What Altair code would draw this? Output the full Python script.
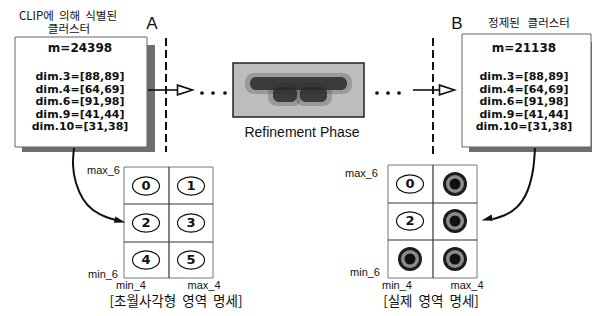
import altair as alt
import pandas as pd

NB = "\u00a0"

# ---------------- data (page pixel units, y downward) ----------------
box_x1 = [15, 462]
box_x2 = [147, 591]
box_y1 = [37, 34]
box_y2 = [147, 147]
box_cx = [80, 524]
box_m = ["m=24398", "m=21138"]
m_y = 48
dim_labels = ["dim.3=[88,89]", "dim.4=[64,69]", "dim.6=[91,98]", "dim.9=[41,44]", "dim.10=[31,38]"]
dim_y = [77, 89.5, 102, 114.5, 127]

kor_titles = ["CLIP에 " + NB + "의해 " + NB + "식별된", "클러스터", "정제된 " + NB + NB + "클러스터"]
kor_title_x = [68, 69, 529]
kor_title_y = [16.5, 30, 24]
letters = ["A", "B"]
letter_x = [152, 457]
letter_y = [24, 23.5]

dash_x = [166, 433]
dash_y1 = [38, 38]
dash_y2 = [152, 157]

arrow_x1 = [148, 413]
arrow_x2 = [178, 441]
arrow_y = [90, 90]
arrowhead_x = [185, 447]

dots_x = [202, 213, 225, 377, 388, 399]
dots_y = [93, 93, 93, 93, 93, 93]

mid_box = [233, 364, 63, 117]
blob_x1 = [250, 273, 300]
blob_x2 = [347, 297, 327]
blob_y1 = [77, 87, 87]
blob_y2 = [90, 102, 102]
mid_label = "Refinement Phase"
mid_label_x = 302
mid_label_y = 133

grid_x1 = [124, 388]
grid_x2 = [213, 477]
grid_y1 = [167, 165]
grid_y2 = [278, 278]
grid_xmid = [169, 433]
grid_ymid1 = [204, 203]
grid_ymid2 = [242, 240]

left_cell_x = [146, 191, 146, 191, 146, 191]
left_cell_y = [186, 186, 223, 223, 260, 260]
left_cell_label = ["0", "1", "2", "3", "4", "5"]
right_open_x = [410, 410]
right_open_y = [184, 221]
right_open_label = ["0", "2"]
right_fill_x = [455, 455, 410, 455]
right_fill_y = [184, 221, 259, 259]

axis_labels = ["max_6", "min_6", "max_6", "min_6"]
axis_label_x = [120, 118, 378, 380]
axis_label_y = [171, 275, 174, 273]
axis4_labels = ["min_4", "max_4", "min_4", "max_4"]
axis4_x = [131, 204, 397, 467]
axis4_y = [286, 286, 286, 286]

captions = ["[초월사각형 " + NB + "영역 " + NB + "명세]", "[실제 " + NB + "영역 " + NB + "명세]"]
caption_x = [176, 431]
caption_y = [301.5, 301.5]

curve_left_x = [74, 73, 76, 83, 93, 106, 116]
curve_left_y = [148, 165, 183, 199, 210, 217, 220]
curve_right_x = [535, 533, 527, 517, 505, 493]
curve_right_y = [148, 170, 192, 207, 215, 219]
head_x = [120, 487]
head_y = [221, 219]

# ---------------- helpers ----------------
XS = alt.Scale(domain=[8, 592], nice=False, zero=False)
YS = alt.Scale(domain=[8, 308], nice=False, zero=False, reverse=True)


def X(f):
    return alt.X(f, type="quantitative", scale=XS, axis=None)


def Y(f):
    return alt.Y(f, type="quantitative", scale=YS, axis=None)


KFONT = "Noto Sans CJK KR"
LFONT = "Liberation Sans"
BFONT = "DejaVu Sans"

layers = []

# shadows
shadow_df = pd.DataFrame({
    "x1": [v + 7 for v in box_x1], "x2": [v + 8 for v in box_x2],
    "y1": [v + 8 for v in box_y1], "y2": [v + 5 for v in box_y2],
})
layers.append(alt.Chart(shadow_df).mark_rect(color="#6e6e6e").encode(
    x=X("x1"), x2="x2", y=Y("y1"), y2="y2"))

# boxes
box_df = pd.DataFrame({"x1": box_x1, "x2": box_x2, "y1": box_y1, "y2": box_y2})
layers.append(alt.Chart(box_df).mark_rect(fill="white", stroke="#666", strokeWidth=1).encode(
    x=X("x1"), x2="x2", y=Y("y1"), y2="y2"))

# box text
m_df = pd.DataFrame({"x": box_cx, "y": [m_y, m_y], "t": box_m})
layers.append(alt.Chart(m_df).mark_text(
    font=BFONT, fontSize=12, fontWeight="bold", color="#111", align="center", baseline="middle").encode(
    x=X("x"), y=Y("y"), text="t:N"))
bt_rows = []
for i in range(2):
    for lab, yy in zip(dim_labels, dim_y):
        bt_rows.append({"x": box_cx[i], "y": yy, "t": lab})
layers.append(alt.Chart(pd.DataFrame(bt_rows)).mark_text(
    font=BFONT, fontSize=11, fontWeight="bold", color="#111", align="center", baseline="middle").encode(
    x=X("x"), y=Y("y"), text="t:N"))

# titles
layers.append(alt.Chart(pd.DataFrame({"x": kor_title_x, "y": kor_title_y, "t": kor_titles})).mark_text(
    font=KFONT, fontSize=11.5, color="#111", align="center", baseline="middle").encode(
    x=X("x"), y=Y("y"), text="t:N"))
layers.append(alt.Chart(pd.DataFrame({"x": letter_x, "y": letter_y, "t": letters})).mark_text(
    font=LFONT, fontSize=17, color="#111", align="center", baseline="middle").encode(
    x=X("x"), y=Y("y"), text="t:N"))

# dashed separators
layers.append(alt.Chart(pd.DataFrame({"x": dash_x, "y1": dash_y1, "y2": dash_y2})).mark_rule(
    color="#111", strokeWidth=2, strokeDash=[8, 4]).encode(x=X("x"), y=Y("y1"), y2="y2"))

# arrows
layers.append(alt.Chart(pd.DataFrame({"x1": arrow_x1, "x2": arrow_x2, "y": arrow_y})).mark_rule(
    color="#111", strokeWidth=1.6).encode(x=X("x1"), x2="x2", y=Y("y")))
layers.append(alt.Chart(pd.DataFrame({"x": arrowhead_x, "y": arrow_y})).mark_point(
    shape="M-1,-0.65L1,0L-1,0.65Z", size=225, filled=True, fill="white", stroke="#111",
    strokeWidth=1.6, opacity=1).encode(x=X("x"), y=Y("y")))

# dots
layers.append(alt.Chart(pd.DataFrame({"x": dots_x, "y": dots_y})).mark_circle(
    size=14, color="#111", opacity=1).encode(x=X("x"), y=Y("y")))

# middle box (blurred content)
layers.append(alt.Chart(pd.DataFrame({"x1": [mid_box[0]], "x2": [mid_box[1]], "y1": [mid_box[2]], "y2": [mid_box[3]]})).mark_rect(
    fill="#bdbdbd", stroke="#222", strokeWidth=1.5).encode(x=X("x1"), x2="x2", y=Y("y1"), y2="y2"))
halo = pd.DataFrame({"x1": [v - 5 for v in blob_x1], "x2": [v + 5 for v in blob_x2],
                     "y1": [v - 4 for v in blob_y1], "y2": [v + 4 for v in blob_y2]})
layers.append(alt.Chart(halo).mark_rect(fill="#555", opacity=0.35, cornerRadius=9).encode(
    x=X("x1"), x2="x2", y=Y("y1"), y2="y2"))
layers.append(alt.Chart(pd.DataFrame({"x1": blob_x1, "x2": blob_x2, "y1": blob_y1, "y2": blob_y2})).mark_rect(
    fill="#2a2a2a", opacity=0.85, cornerRadius=6).encode(x=X("x1"), x2="x2", y=Y("y1"), y2="y2"))
layers.append(alt.Chart(pd.DataFrame({"x": [mid_label_x], "y": [mid_label_y], "t": [mid_label]})).mark_text(
    font=LFONT, fontSize=14, color="#111", align="center", baseline="middle").encode(
    x=X("x"), y=Y("y"), text="t:N"))

# grids
layers.append(alt.Chart(pd.DataFrame({"x1": grid_x1, "x2": grid_x2, "y1": grid_y1, "y2": grid_y2})).mark_rect(
    fill="white", stroke="#777", strokeWidth=1).encode(x=X("x1"), x2="x2", y=Y("y1"), y2="y2"))
layers.append(alt.Chart(pd.DataFrame({"x": grid_xmid, "y1": grid_y1, "y2": grid_y2})).mark_rule(
    color="#333", strokeWidth=1.2).encode(x=X("x"), y=Y("y1"), y2="y2"))
hl = pd.DataFrame({"x1": grid_x1 + grid_x1, "x2": grid_x2 + grid_x2, "y": grid_ymid1 + grid_ymid2})
layers.append(alt.Chart(hl).mark_rule(color="#333", strokeWidth=1.2).encode(x=X("x1"), x2="x2", y=Y("y")))

# open ellipses
ell = "M-1,0A1,0.68,0,1,0,1,0A1,0.68,0,1,0,-1,0Z"
open_df = pd.DataFrame({"x": left_cell_x + right_open_x, "y": left_cell_y + right_open_y,
                        "t": left_cell_label + right_open_label})
layers.append(alt.Chart(open_df).mark_point(shape=ell, size=729, filled=True, fill="white",
                                            stroke="#111", strokeWidth=1.2, opacity=1).encode(x=X("x"), y=Y("y")))
layers.append(alt.Chart(open_df).mark_text(font=BFONT, fontSize=13, fontWeight="bold", color="#111",
                                           align="center", baseline="middle").encode(x=X("x"), y=Y("y"), text="t:N"))

# filled (shaded) circles
fill_df = pd.DataFrame({"x": right_fill_x, "y": right_fill_y})
for sz, col in [(24 ** 2, "#1c1c1c"), (18 ** 2, "#8c8c8c"), (11 ** 2, "#111")]:
    layers.append(alt.Chart(fill_df).mark_point(shape="circle", size=sz, filled=True, color=col,
                                                opacity=1).encode(x=X("x"), y=Y("y")))

# axis labels
layers.append(alt.Chart(pd.DataFrame({"x": axis_label_x, "y": axis_label_y, "t": axis_labels})).mark_text(
    font=LFONT, fontSize=11, color="#111", align="right", baseline="middle").encode(
    x=X("x"), y=Y("y"), text="t:N"))
layers.append(alt.Chart(pd.DataFrame({"x": axis4_x, "y": axis4_y, "t": axis4_labels})).mark_text(
    font=LFONT, fontSize=11, color="#111", align="center", baseline="middle").encode(
    x=X("x"), y=Y("y"), text="t:N"))
layers.append(alt.Chart(pd.DataFrame({"x": caption_x, "y": caption_y, "t": captions})).mark_text(
    font=KFONT, fontSize=13.5, color="#111", align="center", baseline="middle").encode(
    x=X("x"), y=Y("y"), text="t:N"))

# curved arrows
cl = pd.DataFrame({"x": curve_left_x, "y": curve_left_y, "o": list(range(len(curve_left_x))), "g": "L"})
cr = pd.DataFrame({"x": curve_right_x, "y": curve_right_y, "o": list(range(len(curve_right_x))), "g": "R"})
layers.append(alt.Chart(pd.concat([cl, cr])).mark_line(interpolate="natural", color="#111", strokeWidth=2).encode(
    x=X("x"), y=Y("y"), order="o:Q", detail="g:N"))
layers.append(alt.Chart(pd.DataFrame({"x": [head_x[0]], "y": [head_y[0]]})).mark_point(
    shape="M-1,-0.6L1,0L-1,0.6Z", size=121, filled=True, color="#111", opacity=1, angle=15).encode(
    x=X("x"), y=Y("y")))
layers.append(alt.Chart(pd.DataFrame({"x": [head_x[1]], "y": [head_y[1]]})).mark_point(
    shape="M1,-0.6L-1,0L1,0.6Z", size=121, filled=True, color="#111", opacity=1, angle=345).encode(
    x=X("x"), y=Y("y")))

chart = alt.layer(*layers).properties(
    width=584, height=300, padding=0, autosize=alt.AutoSizeParams(type="none"),
    background="white",
).configure_view(stroke=None)

chart.save("out.html", embed_options={"renderer": "svg", "actions": False})
